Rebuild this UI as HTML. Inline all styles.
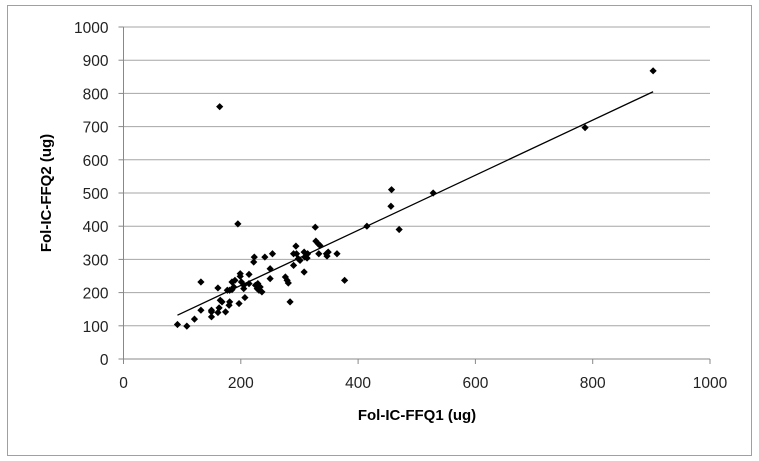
<!DOCTYPE html>
<html><head><meta charset="utf-8"><style>
body{margin:0;background:#fff}
svg{display:block;font-family:"Liberation Sans",Calibri,sans-serif}
</style></head><body>
<svg id="c" width="759" height="461">
<rect x="7.5" y="5.5" width="744" height="450" fill="#fff" stroke="#a0a0a0"/>
<g id="grid"></g><g id="axes"></g><g id="pts"></g>
<text x="417" y="420" text-anchor="middle" font-weight="bold" font-size="15">Fol-IC-FFQ1 (ug)</text>
<text transform="translate(51,193) rotate(-90)" text-anchor="middle" font-weight="bold" font-size="15">Fol-IC-FFQ2 (ug)</text>
</svg>
<script>
const xTicks=[0,200,400,600,800,1000];
const yTicks=[0,100,200,300,400,500,600,700,800,900,1000];
const xs=[92,108,121,132,132,150,150,150,161,163,161,165,168,174,180,181,177,181,185,185,190,188,195,197,199,199,201,205,205,207,214,214,222,223,225,228,231,233,236,229,241,250,250,254,276,279,281,284,290,294,290,295,298,301,308,309,313,314,308,327,328,332,335,333,346,347,349,364,377,164,456,457,470,415,528,787,903];
const ys=[104,99,120,147,232,127,142,147,140,154,214,177,172,142,162,172,207,207,209,232,237,217,407,167,257,249,232,222,212,185,255,227,292,307,222,212,207,217,202,227,307,272,242,317,247,237,229,172,282,340,317,317,302,297,322,307,304,317,262,397,355,347,342,317,317,310,322,317,237,760,460,510,390,400,500,697,868];
const trendX=[92,903];
const trendY=[132,805];
const X=v=>123.5+v*0.5865, Y=v=>359-v*0.332;
const NS='http://www.w3.org/2000/svg';
function mk(p,t,a){const e=document.createElementNS(NS,t);for(const k in a)e.setAttribute(k,a[k]);p.appendChild(e);return e;}
const g=document.getElementById('grid'),ax=document.getElementById('axes'),pts=document.getElementById('pts');
yTicks.forEach(v=>{
 if(v>0){const l=mk(g,'line',{x1:X(0),x2:X(1000),y1:Y(v),y2:Y(v),stroke:'#a6a6a6'});
 
 }
 mk(ax,'line',{x1:X(0)-5,x2:X(0),y1:Y(v),y2:Y(v),stroke:'#888'});
 const t=mk(ax,'text',{x:X(0)-15,y:Y(v)+6,'text-anchor':'end','font-size':'15.5',fill:'#222'});t.textContent=v;
 
 
});
mk(ax,'line',{x1:X(0),x2:X(0),y1:Y(0),y2:Y(1000),stroke:'#888'});
mk(ax,'line',{x1:X(0),x2:X(1000),y1:Y(0),y2:Y(0),stroke:'#888'});
xTicks.forEach(v=>{
 mk(ax,'line',{x1:X(v),x2:X(v),y1:Y(0),y2:Y(0)+5,stroke:'#888'});
 const t=mk(ax,'text',{x:X(v),y:Y(0)+29,'text-anchor':'middle','font-size':'15.5',fill:'#222'});t.textContent=v;
 
 
});
const tl=mk(pts,'line',{x1:X(trendX[0]),y1:Y(trendY[0]),x2:X(trendX[1]),y2:Y(trendY[1]),stroke:'#000','stroke-width':1.3});


xs.forEach((v,i)=>{
 const cx=X(v),cy=Y(ys[i]);
 const p=mk(pts,'path',{d:`M${cx} ${cy-3.6}L${cx+3.6} ${cy}L${cx} ${cy+3.6}L${cx-3.6} ${cy}Z`,fill:'#000'});
 
 
});
</script>
</body></html>
